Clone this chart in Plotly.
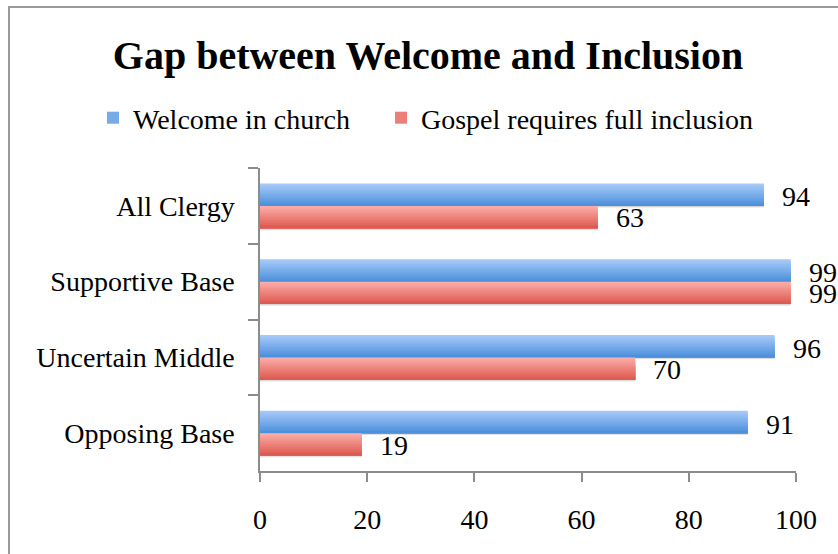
import plotly.graph_objects as go

# Survey results (% of clergy)
categories = ["All Clergy", "Supportive Base", "Uncertain Middle", "Opposing Base"]
welcome = [94, 99, 96, 91]
gospel = [63, 99, 70, 19]
series_names = ["Welcome in church", "Gospel requires full inclusion"]
x_ticks = [0, 20, 40, 60, 80, 100]

FONT = "Liberation Serif, Times New Roman, serif"
BAR_W = 0.295          # thickness of one bar, in category units
N_SLICES = 14          # vertical gradient steps per bar
LEGEND_W = [243, 340]  # legend entry widths (px)

# gradient end colours (top, bottom) for each series
grad = {
    0: ((166, 201, 248), (77, 144, 220)),
    1: ((252, 172, 168), (221, 90, 80)),
}


def mix(c0, c1, t):
    return "rgb({},{},{})".format(*[round(a + (b - a) * t) for a, b in zip(c0, c1)])


fig = go.Figure()

series = [welcome, gospel]

# soft drop shadow beneath each bar
for s, vals in enumerate(series):
    base_off = -BAR_W if s == 0 else 0.0
    for k, alpha in enumerate([0.16, 0.08]):
        fig.add_trace(go.Bar(
            x=vals, y=categories, orientation="h",
            offset=base_off + BAR_W + 0.012 * k, width=0.014,
            marker=dict(color=f"rgba(0,0,0,{alpha})", line=dict(width=0)),
            showlegend=False, hoverinfo="skip",
        ))

# gradient bars: each slice runs from its top down to the bar's bottom edge
for s, vals in enumerate(series):
    top, bot = grad[s]
    base_off = -BAR_W if s == 0 else 0.0
    step = BAR_W / N_SLICES
    for i in range(N_SLICES):
        t = i / (N_SLICES - 1)
        fig.add_trace(go.Bar(
            x=vals, y=categories, orientation="h",
            offset=base_off + i * step, width=BAR_W - i * step,
            marker=dict(color=mix(top, bot, t), line=dict(width=0)),
            name=series_names[s],
            showlegend=(i == N_SLICES // 2),
            legendrank=s + 1,
            legendwidth=LEGEND_W[s],
            hovertemplate="%{y}: %{x}<extra>" + series_names[s] + "</extra>",
        ))

# value labels to the right of each bar
annotations = []
for s, vals in enumerate(series):
    for cat, v in zip(categories, vals):
        annotations.append(dict(
            x=v, y=cat, xref="x", yref="y", text=str(v), showarrow=False,
            xanchor="left", yanchor="middle", xshift=16,
            yshift=9 if s == 0 else -12,
            font=dict(family=FONT, size=28, color="#000"),
        ))

# chart frame
frame = dict(
    type="rect", xref="paper", yref="paper",
    x0=(9 - 260) / 536, x1=1.3, y0=-0.5, y1=1 + (168 - 7) / 303,
    line=dict(color="#9a9a9a", width=2), fillcolor="rgba(0,0,0,0)", layer="below",
)

fig.update_layout(
    width=838, height=554,
    margin=dict(l=260, r=42, t=168, b=83),
    paper_bgcolor="white", plot_bgcolor="white",
    barmode="overlay",
    font=dict(family=FONT, size=28, color="#000"),
    title=dict(
        text="<b>Gap between Welcome and Inclusion</b>",
        x=428 / 838, xanchor="center", xref="container",
        y=1 - 55 / 554, yanchor="middle", yref="container",
        font=dict(family=FONT, size=40, color="#000"),
    ),
    legend=dict(
        orientation="h", x=(93 - 260) / 536, xanchor="left",
        y=1 + 50 / 303, yanchor="middle",
        font=dict(family=FONT, size=28), bgcolor="rgba(0,0,0,0)",
        traceorder="normal",
    ),
    xaxis=dict(
        range=[0, 100], tickvals=x_ticks, ticktext=[str(t) for t in x_ticks],
        showgrid=False, zeroline=False,
        showline=True, linecolor="#8c8c8c", linewidth=1.5,
        ticks="outside", ticklen=9, tickcolor="#8c8c8c", tickwidth=1.5,
        ticklabelstandoff=14,
        tickfont=dict(family=FONT, size=28),
    ),
    yaxis=dict(
        type="category", categoryorder="array", categoryarray=categories,
        range=[3.5, -0.5],
        showgrid=False, zeroline=False,
        showline=True, linecolor="#8c8c8c", linewidth=1.5,
        ticks="outside", ticklen=10, tickcolor="#8c8c8c", tickwidth=1.5,
        tickson="boundaries", ticklabelstandoff=18,
        tickfont=dict(family=FONT, size=28),
    ),
    annotations=annotations,
    shapes=[frame],
)

fig.write_html("out.html")
